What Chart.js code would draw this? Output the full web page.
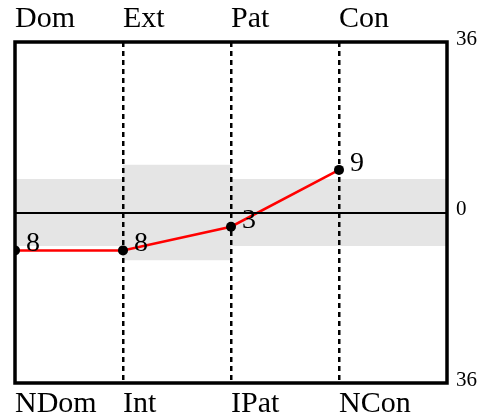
<!DOCTYPE html>
<html><head><meta charset="utf-8">
<script src="https://cdn.jsdelivr.net/npm/chart.js@4/dist/chart.umd.min.js"></script>
<style>html,body{margin:0;padding:0;background:#fff}</style>
</head><body>
<canvas id="c" width="494" height="417"></canvas>
<script>
// ---- data ----
const topLabels = ['Dom', 'Ext', 'Pat', 'Con'];
const bottomLabels = ['NDom', 'Int', 'IPat', 'NCon'];
const positions = [0, 1, 2, 3];
const scores = [-8, -8, -3, 9];
const bandCenters = [0.5, 1.5, 2.5, 3.5];
const bandHalf = [7, 10, 7, 7];
const yTickValues = [-36, 0, 36];

const SERIF = '"Liberation Serif", "Times New Roman", serif';

const lineData = positions.map((p, i) => ({ x: p, y: scores[i] }));
const bandData = bandCenters.map((c, i) => ({ x: c, y: [-bandHalf[i], bandHalf[i]] }));

const boxPlugin = {
  id: 'box',
  afterDraw(chart) {
    const a = chart.chartArea, ctx = chart.ctx;
    ctx.save();
    ctx.strokeStyle = '#000';
    ctx.lineWidth = 3.5;
    ctx.strokeRect(a.left, a.top, a.right - a.left, a.bottom - a.top);
    ctx.restore();
  }
};

const pointLabelPlugin = {
  id: 'pointLabels',
  afterDraw(chart) {
    const ctx = chart.ctx;
    const meta = chart.getDatasetMeta(1);
    ctx.save();
    ctx.font = '28px ' + SERIF;
    ctx.fillStyle = '#000';
    ctx.textAlign = 'left';
    ctx.textBaseline = 'alphabetic';
    meta.data.forEach((el, i) => {
      ctx.fillText(String(Math.abs(scores[i])), el.x + 11, el.y + 1);
    });
    ctx.restore();
  }
};

new Chart(document.getElementById('c'), {
  type: 'line',
  data: {
    datasets: [
      {
        type: 'bar',
        data: bandData,
        backgroundColor: '#e5e5e5',
        borderWidth: 0,
        barPercentage: 1,
        categoryPercentage: 1,
        order: 2,
        xAxisID: 'x',
        yAxisID: 'y'
      },
      {
        type: 'line',
        data: lineData,
        borderColor: '#ff0000',
        borderWidth: 2.5,
        pointBackgroundColor: '#000',
        pointBorderWidth: 0,
        pointRadius: 5,
        tension: 0,
        order: 1,
        xAxisID: 'x',
        yAxisID: 'y'
      }
    ]
  },
  options: {
    responsive: false,
    animation: false,
    events: [],
    layout: { padding: { left: 15, right: 0, top: 0, bottom: 0 } },
    plugins: { legend: { display: false }, tooltip: { enabled: false } },
    scales: {
      x: {
        type: 'linear',
        position: 'bottom',
        min: 0, max: 4,
        offset: false,
        afterBuildTicks(s) { s.ticks = [0, 1, 2, 3, 4].map(v => ({ value: v })); },
        afterFit(s) { s.height = 34; },
        ticks: {
          align: 'start',
          padding: 3,
          color: '#000',
          font: { family: SERIF, size: 30 },
          callback: v => bottomLabels[v] ?? ''
        },
        grid: {
          z: 1,
          offset: false,
          drawTicks: false,
          color: c => (c.tick && c.tick.value > 0 && c.tick.value < 4) ? '#000' : 'rgba(0,0,0,0)',
          lineWidth: 2.5
        },
        border: { display: false, dash: [5, 4] }
      },
      x2: {
        type: 'linear',
        position: 'top',
        min: 0, max: 4,
        offset: false,
        afterBuildTicks(s) { s.ticks = [0, 1, 2, 3, 4].map(v => ({ value: v })); },
        afterFit(s) { s.height = 42; },
        ticks: {
          align: 'start',
          padding: 5,
          color: '#000',
          font: { family: SERIF, size: 30 },
          callback: v => topLabels[v] ?? ''
        },
        grid: { display: false, drawTicks: false },
        border: { display: false }
      },
      y: {
        type: 'linear',
        position: 'right',
        min: -36, max: 36,
        afterBuildTicks(s) { s.ticks = yTickValues.map(v => ({ value: v })); },
        afterFit(s) { s.width = 47; },
        ticks: {
          padding: 9,
          labelOffset: -3,
          color: '#000',
          font: { family: SERIF, size: 21 },
          callback: v => String(Math.abs(v))
        },
        grid: {
          z: 1,
          drawTicks: false,
          color: c => (c.tick && c.tick.value === 0) ? '#000' : 'rgba(0,0,0,0)',
          lineWidth: 2
        },
        border: { display: false }
      }
    }
  },
  plugins: [boxPlugin, pointLabelPlugin]
});
</script>
</body></html>
